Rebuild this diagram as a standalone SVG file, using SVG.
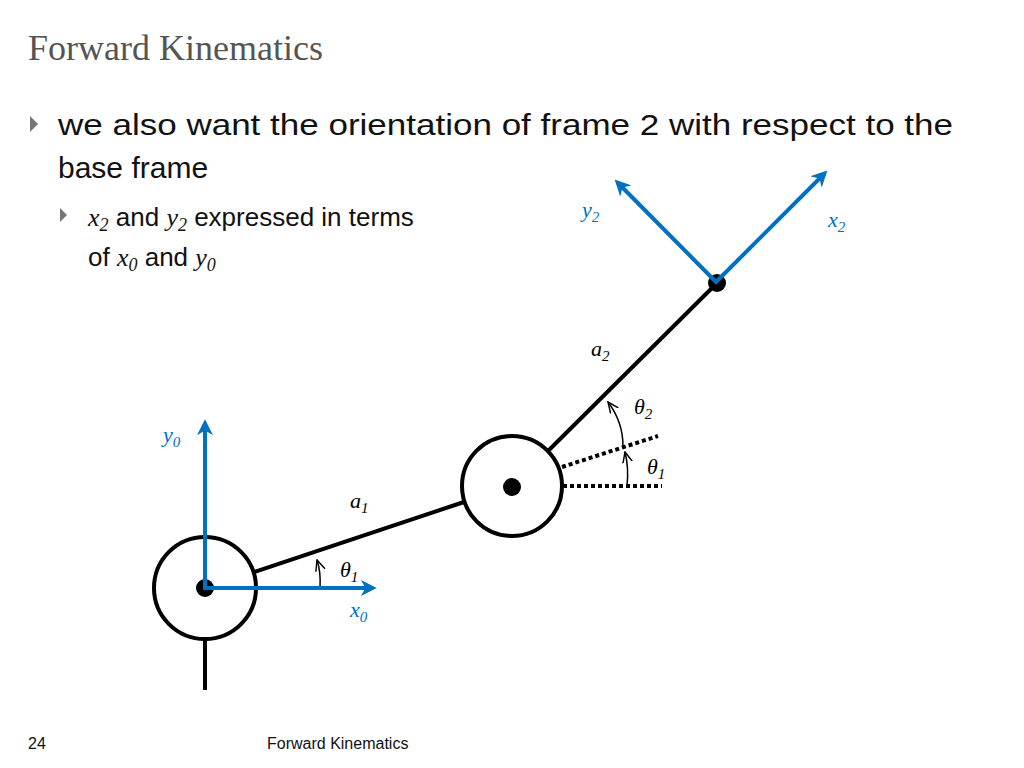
<svg xmlns="http://www.w3.org/2000/svg" width="1024" height="768" viewBox="0 0 1024 768">
<style>
.t{font-family:"Liberation Sans",Arial,sans-serif;fill:#111}
.m{font-family:"Liberation Serif","Times New Roman",serif;font-style:italic}
.b{fill:#0070c0}
.k{stroke:#000;stroke-width:4;fill:none}
.bl{stroke:#0070c0;stroke-width:4;fill:none}
.d{stroke:#000;stroke-width:4;stroke-dasharray:4 3;fill:none}
.a{stroke:#000;stroke-width:1.5;fill:none}
</style>
<defs>
<marker id="ba" viewBox="0 0 10 10" refX="7" refY="5" markerWidth="4" markerHeight="4" orient="auto"><path d="M0,0 L10,5 L0,10 L3,5 Z" fill="#0070c0"/></marker>
<marker id="sa" viewBox="0 0 10 10" refX="9" refY="5" markerWidth="8" markerHeight="8" orient="auto"><path d="M0,1 L9,5 L0,9" fill="none" stroke="#000" stroke-width="1.2"/></marker>
</defs>
<text x="28" y="60" font-family="Liberation Serif,serif" font-size="36" fill="#555">Forward Kinematics</text>
<path d="M30,116 L38,124 L30,132 Z" fill="#777"/>
<text class="t" x="58" y="135" font-size="30" textLength="895" lengthAdjust="spacingAndGlyphs">we also want the orientation of frame 2 with respect to the</text>
<text class="t" x="58" y="178" font-size="30">base frame</text>
<path d="M60,208 L67,215 L60,222 Z" fill="#777"/>
<text class="t" x="88" y="226" font-size="26"><tspan class="m">x</tspan><tspan class="m" font-size="18" dy="5">2</tspan><tspan dy="-5"> and </tspan><tspan class="m">y</tspan><tspan class="m" font-size="18" dy="5">2</tspan><tspan dy="-5"> expressed in terms</tspan></text>
<text class="t" x="88" y="266" font-size="26">of <tspan class="m">x</tspan><tspan class="m" font-size="18" dy="5">0</tspan><tspan dy="-5"> and </tspan><tspan class="m">y</tspan><tspan class="m" font-size="18" dy="5">0</tspan></text>
<g id="connectors">
<line class="k" x1="205" y1="640" x2="205" y2="690"/>
<line class="k" x1="254" y1="572" x2="464" y2="502"/>
<line class="k" x1="548" y1="451" x2="717" y2="283"/>
<line class="d" x1="563" y1="486" x2="662" y2="486"/>
<line class="d" x1="562" y1="467" x2="658" y2="436"/>
<path class="a" d="M320,588 Q321,572 317,560" marker-end="url(#sa)"/>
<path class="a" d="M627,486 Q629,468 625,452" marker-end="url(#sa)"/>
<path class="a" d="M623,446 Q623,422 608,402" marker-end="url(#sa)"/>
</g>
<g id="joint1"><circle class="k" cx="205" cy="588" r="51" fill="#fff"/><circle cx="205" cy="588" r="9"/></g>
<g id="joint2"><circle class="k" cx="512" cy="486" r="50" fill="#fff"/><circle cx="512" cy="487" r="9"/></g>
<g id="end"><circle cx="717" cy="283" r="9"/></g>
<g id="frame0">
<line class="bl" x1="205" y1="590" x2="205" y2="424" marker-end="url(#ba)"/>
<line class="bl" x1="203" y1="588" x2="372" y2="588" marker-end="url(#ba)"/>
</g>
<g id="frame2">
<line class="bl" x1="715" y1="283" x2="824" y2="174" marker-end="url(#ba)"/>
<line class="bl" x1="717" y1="283" x2="618" y2="183" marker-end="url(#ba)"/>
</g>
<g class="m" font-size="22">
<text class="b" x="163" y="442">y<tspan font-size="15" dy="5">0</tspan></text>
<text class="b" x="350" y="617">x<tspan font-size="15" dy="5">0</tspan></text>
<text class="b" x="582" y="217">y<tspan font-size="15" dy="5">2</tspan></text>
<text class="b" x="828" y="227">x<tspan font-size="15" dy="5">2</tspan></text>
<text x="350" y="508">a<tspan font-size="15" dy="5">1</tspan></text>
<text x="591" y="356">a<tspan font-size="15" dy="5">2</tspan></text>
<text x="340" y="577">θ<tspan font-size="15" dy="5">1</tspan></text>
<text x="634" y="414">θ<tspan font-size="15" dy="5">2</tspan></text>
<text x="647" y="474">θ<tspan font-size="15" dy="5">1</tspan></text>
</g>
<text class="t" x="28" y="749" font-size="16">24</text>
<text class="t" x="267" y="749" font-size="16">Forward Kinematics</text>
</svg>
